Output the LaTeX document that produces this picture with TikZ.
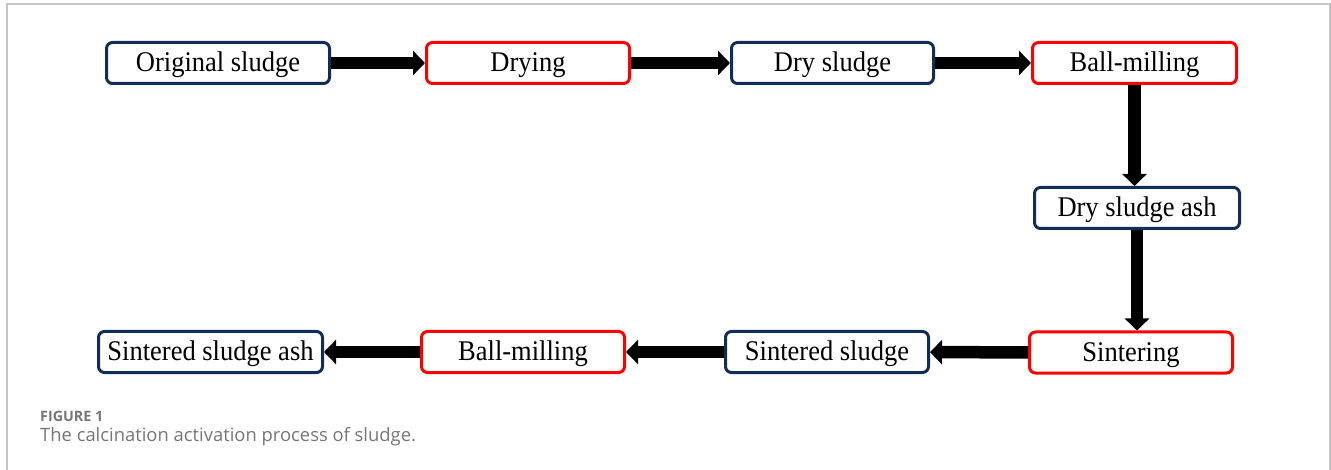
\documentclass[tikz,border=0pt]{standalone}
\usepackage{fontspec}
\setmainfont{Liberation Serif}
\newfontfamily\stagefont{Liberation Serif}[FakeStretch=0.93]
\newfontfamily\capfont{Open Sans}
\usetikzlibrary{arrows.meta,calc}
\definecolor{navy}{RGB}{16,45,88}
\definecolor{boxred}{RGB}{255,0,0}
\definecolor{framegray}{RGB}{196,196,196}
\definecolor{capgray}{RGB}{118,118,120}
\tikzset{
  stage/.style={draw, rounded corners=6pt, line width=3pt, fill=white,
    minimum height=41pt, inner sep=0pt, text height=22pt, text depth=4pt,
    font=\stagefont\fontsize{28.5}{30}\selectfont},
  material/.style={stage, draw=navy},
  process/.style={stage, draw=boxred},
  flow/.style={line width=12.5pt, -{Triangle[width=24pt,length=12pt]}},
}
\begin{document}
\begin{tikzpicture}[x=1pt,y=-1pt]
\useasboundingbox (0,0) rectangle (1331,470);
% outer frame
\draw[framegray, line width=1.5pt] (7,471) -- (7,4) -- (1330,4) -- (1330,471);

% top row
\node[material, minimum width=223pt] (orig) at (218,63) {Original sludge};
\node[process,  minimum width=203pt] (dry)  at (528,63) {Drying};
\node[material, minimum width=202pt] (drys) at (832.5,63) {Dry sludge};
\node[process,  minimum width=204pt] (bm1)  at (1134.5,63) {Ball-milling};
% right column
\node[material, minimum width=205pt] (ash)  at (1137,208) {Dry sludge ash};
% bottom row
\node[process,  minimum width=203pt] (sint) at (1131,352.5) {Sintering};
\node[material, minimum width=203pt] (ss)   at (827,352) {Sintered sludge};
\node[process,  minimum width=203pt] (bm2)  at (523,352) {Ball-milling};
\node[material, minimum width=224pt] (ssa)  at (210.5,352) {Sintered sludge ash};

% connectors
\draw[flow] (orig) -- (dry);
\draw[flow] (dry) -- (drys);
\draw[flow] (drys) -- (bm1);
\draw[flow] (bm1.south) -- (bm1.south |- ash.north);
\draw[flow] (ash.south) -- (ash.south |- sint.north);
\draw[flow] (sint) -- (ss);
\draw[flow] (ss) -- (bm2);
\draw[flow] (bm2) -- (ssa);

% caption
\node[anchor=base west, inner sep=0pt, text=capgray, font=\capfont\bfseries\fontsize{14.3}{16}\selectfont]
  (figlabel) at (40,421.5) {FIGURE 1};
\node[anchor=base west, inner sep=0pt, text=capgray, font=\capfont\fontsize{18.4}{20}\selectfont]
  (figtitle) at (40,441.5) {The calcination activation process of sludge.};
\end{tikzpicture}
\end{document}
